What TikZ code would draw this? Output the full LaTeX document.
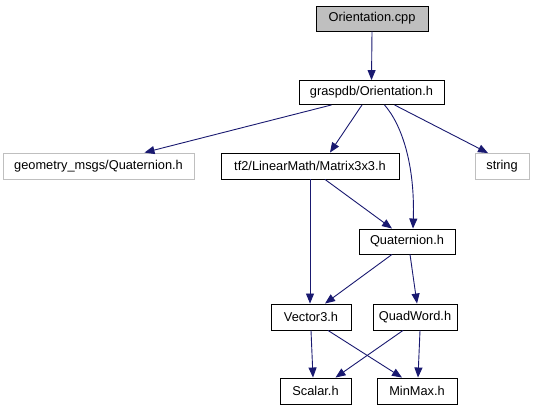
\documentclass[tikz,border=0pt]{standalone}
\usepackage{fontspec}
\setmainfont{Liberation Sans}
\usetikzlibrary{arrows.meta,calc}
\definecolor{edgeblue}{HTML}{191970}
\definecolor{lightgraybox}{HTML}{BFBFBF}
\tikzset{
  box/.style={draw=black,line width=0.9pt,fill=white,minimum height=25pt,inner sep=0pt,font=\fontsize{12.8}{14}\selectfont},
  graybox/.style={box,draw=lightgraybox},
  edge/.style={draw=edgeblue,line width=0.9pt,-{Triangle[length=10pt,width=8pt]}}
}
\begin{document}
\begin{tikzpicture}[x=1pt,y=-1pt]
\useasboundingbox (0,0) rectangle (535,411);
\node[box,fill=lightgraybox,minimum width=112pt] (cpp) at (372,18.5) {Orientation.cpp};
\node[box,minimum width=145pt,minimum height=24pt] (gdb) at (371.5,92.5) {graspdb/Orientation.h};
\node[graybox,minimum width=191pt,minimum height=26pt] (geo) at (98.5,166) {geometry\_msgs/Quaternion.h};
\node[box,minimum width=178pt,minimum height=26pt] (mat) at (310,166) {tf2/LinearMath/Matrix3x3.h};
\node[graybox,minimum width=54pt,minimum height=26pt] (str) at (502,166.5) {string};
\node[box,minimum width=96pt] (qua) at (407,241.5) {Quaternion.h};
\node[box,minimum width=80pt,minimum height=26pt] (vec) at (311,317) {Vector3.h};
\node[box,minimum width=84pt,minimum height=26pt] (qw) at (415,317) {QuadWord.h};
\node[box,minimum width=71pt,minimum height=26pt] (sca) at (315.5,391) {Scalar.h};
\node[box,minimum width=80pt,minimum height=26pt] (mm) at (417,391) {MinMax.h};

\draw[edge] (cpp.south) -- (gdb.north);
\draw[edge] ([xshift=-40pt]gdb.south) -- ([xshift=46pt]geo.north);
\draw[edge] ([xshift=-9.5pt]gdb.south) -- ([xshift=20pt]mat.north);
\draw[edge] ([xshift=13pt]gdb.south) .. controls (402,125) and (415,165) .. ([xshift=6pt]qua.north);
\draw[edge] ([xshift=23pt]gdb.south) -- ([xshift=-14pt]str.north);
\draw[edge] ([xshift=15pt]mat.south) -- ([xshift=-15pt]qua.north);
\draw[edge] (mat.south) -- ([xshift=-1pt]vec.north);
\draw[edge] ([xshift=-15pt]qua.south) -- ([xshift=14pt]vec.north);
\draw[edge] ([xshift=3pt]qua.south) -- ([xshift=2pt]qw.north);
\draw[edge] (vec.south) -- ([xshift=-2.5pt]sca.north);
\draw[edge] ([xshift=17pt]vec.south) -- ([xshift=-15pt]mm.north);
\draw[edge] ([xshift=-12pt]qw.south) -- ([xshift=20pt]sca.north);
\draw[edge] ([xshift=5pt]qw.south) -- ([xshift=1pt]mm.north);
\end{tikzpicture}
\end{document}
